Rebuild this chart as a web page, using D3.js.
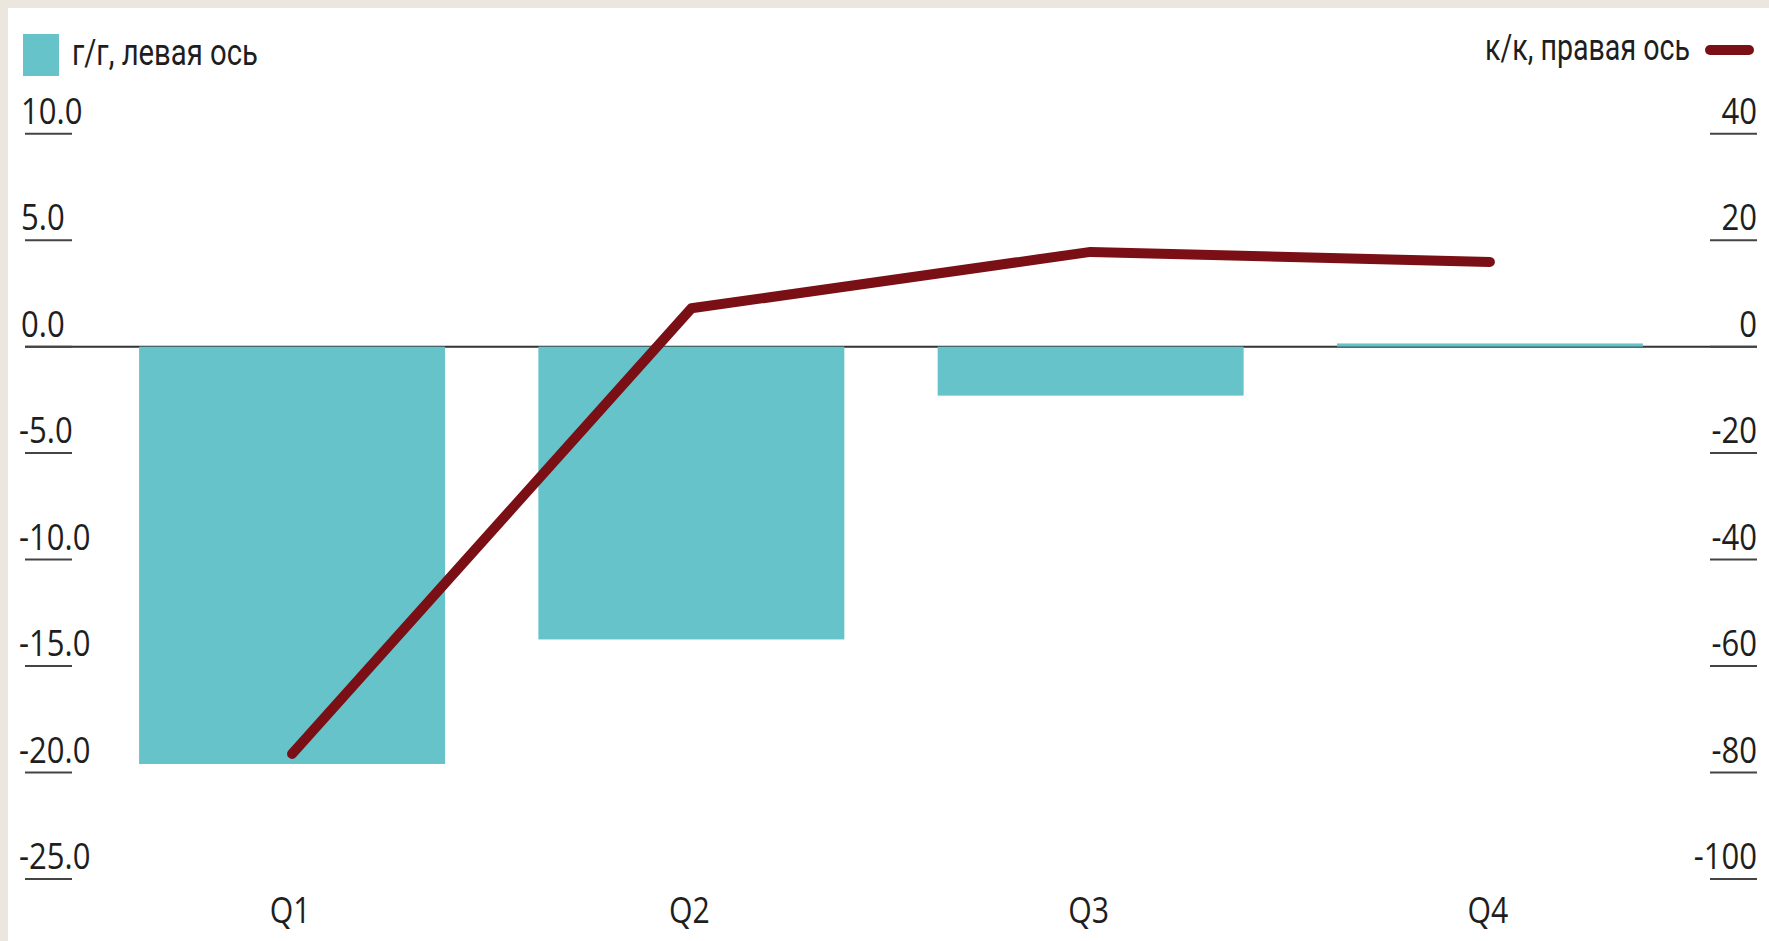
<!DOCTYPE html>
<html>
<head>
<meta charset="utf-8">
<script src="https://cdn.jsdelivr.net/npm/d3@7"></script>
<style>
  html, body { margin: 0; padding: 0; background: #ebe7de; }
  svg { display: block; }
</style>
</head>
<body>
<svg id="chart" width="1769" height="941"></svg>
<script>
// ---- data ----
const categories = ["Q1", "Q2", "Q3", "Q4"];
const yoyValues = [-19.6, -13.75, -2.3, 0.15];     // г/г, левая ось (bars)
const qoqValues = [-76.5, 7.2, 17.8, 15.9];         // к/к, правая ось (line)
const leftTicks = [10, 5, 0, -5, -10, -15, -20, -25];
const rightTicks = [40, 20, 0, -20, -40, -60, -80, -100];
const legendLeftLabel = "г/г, левая ось";
const legendRightLabel = "к/к, правая ось";

// ---- styles ----
const teal = "#65c3c9";
const maroon = "#7a1015";
const textColor = "#1e1e1e";
const axisFont = "'Open Sans', 'Noto Sans', sans-serif";
const legendFont = "Roboto, 'Liberation Sans', Arial, sans-serif";
const squeeze = 0.84;

const svg = d3.select("#chart");
const W = 1769, H = 941;

// background panel
svg.append("rect").attr("x", 0).attr("y", 0).attr("width", W).attr("height", H).attr("fill", "#ebe7de");
svg.append("rect").attr("x", 8).attr("y", 8).attr("width", W - 8).attr("height", H - 8).attr("fill", "#ffffff");

// scales
const axisLeftX = 25, axisRightX = 1757;
const x = d3.scaleBand().domain(categories).range([axisLeftX, axisRightX]).paddingInner(0.2337).paddingOuter(0.2857);
const yL = d3.scaleLinear().domain([-25, 10]).range([879, 133.7]);
const yR = d3.scaleLinear().domain([-100, 40]).range([879, 133.7]);

// zero line
svg.append("line")
  .attr("x1", axisLeftX).attr("x2", axisRightX)
  .attr("y1", yL(0)).attr("y2", yL(0))
  .attr("stroke", "#333").attr("stroke-width", 2);

// left axis ticks (underline style)
const gL = svg.append("g");
gL.selectAll("line").data(leftTicks).join("line")
  .attr("x1", 25).attr("x2", 72)
  .attr("y1", d => yL(d)).attr("y2", d => yL(d))
  .attr("stroke", "#444").attr("stroke-width", 2);
gL.selectAll("text").data(leftTicks).join("text")
  .attr("transform", d => `translate(${d < 0 ? 19 : 21},${yL(d) - 10}) scale(${squeeze},1)`)
  .attr("font-family", axisFont).attr("font-size", 37)
  .attr("fill", textColor)
  .text(d => d3.format(".1f")(d).replace("−", "-"));

// right axis ticks
const gR = svg.append("g");
gR.selectAll("line").data(rightTicks).join("line")
  .attr("x1", 1710).attr("x2", 1757)
  .attr("y1", d => yR(d)).attr("y2", d => yR(d))
  .attr("stroke", "#444").attr("stroke-width", 2);
gR.selectAll("text").data(rightTicks).join("text")
  .attr("transform", d => `translate(1757,${yR(d) - 10}) scale(${squeeze},1)`)
  .attr("text-anchor", "end")
  .attr("font-family", axisFont).attr("font-size", 37)
  .attr("fill", textColor)
  .text(d => String(d).replace("−", "-"));

// bars
svg.append("g").selectAll("rect").data(categories).join("rect")
  .attr("x", d => x(d))
  .attr("width", x.bandwidth())
  .attr("y", (d, i) => yL(Math.max(0, yoyValues[i])))
  .attr("height", (d, i) => Math.abs(yL(yoyValues[i]) - yL(0)))
  .attr("fill", teal);

// line
const line = d3.line()
  .x((d, i) => x(categories[i]) + x.bandwidth() / 2)
  .y(d => yR(d));
svg.append("path")
  .datum(qoqValues)
  .attr("d", line)
  .attr("fill", "none")
  .attr("stroke", maroon)
  .attr("stroke-width", 10)
  .attr("stroke-linecap", "round")
  .attr("stroke-linejoin", "round");

// x labels
svg.append("g").selectAll("text").data(categories).join("text")
  .attr("transform", d => `translate(${x(d) + x.bandwidth() / 2 - 2},923) scale(${squeeze},1)`)
  .attr("text-anchor", "middle")
  .attr("font-family", axisFont).attr("font-size", 36)
  .attr("fill", textColor)
  .text(d => d);

// legend left
svg.append("rect").attr("x", 23).attr("y", 34).attr("width", 36).attr("height", 42).attr("fill", teal);
svg.append("text")
  .attr("x", 72).attr("y", 65)
  .attr("font-family", legendFont).attr("font-size", 37)
  .attr("textLength", 186).attr("lengthAdjust", "spacingAndGlyphs")
  .attr("fill", textColor)
  .text(legendLeftLabel);

// legend right
svg.append("text")
  .attr("x", 1485).attr("y", 60)
  .attr("font-family", legendFont).attr("font-size", 37)
  .attr("textLength", 205).attr("lengthAdjust", "spacingAndGlyphs")
  .attr("fill", textColor)
  .text(legendRightLabel);
svg.append("line")
  .attr("x1", 1710).attr("x2", 1749).attr("y1", 50).attr("y2", 50)
  .attr("stroke", maroon).attr("stroke-width", 10).attr("stroke-linecap", "round");
</script>
</body>
</html>
